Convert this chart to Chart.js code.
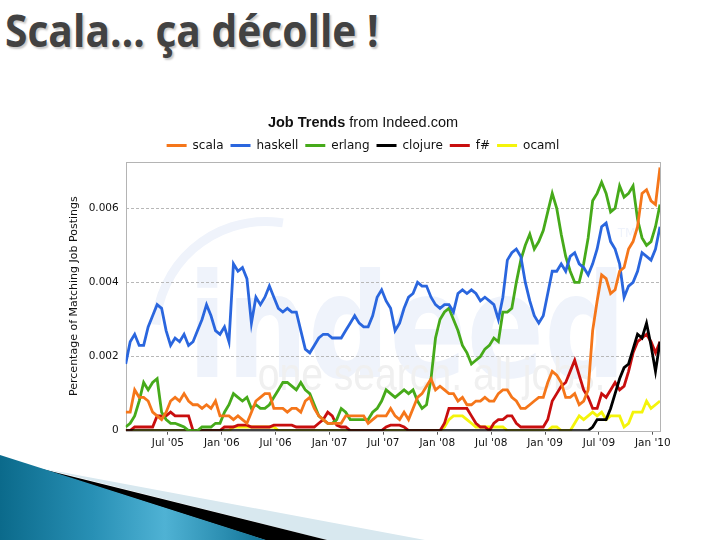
<!DOCTYPE html>
<html>
<head>
<meta charset="utf-8">
<script src="https://cdn.jsdelivr.net/npm/chart.js@4.4.1/dist/chart.umd.min.js"></script>
<style>
  html, body { margin: 0; padding: 0; background: #fff; }
  #slide { position: relative; width: 720px; height: 540px; overflow: hidden; }
  #heading {
    position: absolute; left: 5px; top: 7px; margin: 0;
    font: bold 45px "Open Sans", sans-serif; line-height: 1;
    color: #424242; text-shadow: 2px 2px 2px rgba(0,0,0,0.22);
    white-space: nowrap; transform: scaleX(0.905); transform-origin: 0 0;
  }
  .band { position: absolute; }
  #bandLight { left: 0; top: 455px; width: 430px; height: 85px; background: #d8e8ef;
    clip-path: polygon(45px 14px, 425px 85px, 327px 85px); }
  #bandBlack { left: 0; top: 455px; width: 330px; height: 85px; background: #000;
    clip-path: polygon(38px 13px, 327px 85px, 265px 85px); }
  #bandBlue { left: 0; top: 455px; width: 266px; height: 85px;
    background: linear-gradient(to right, #0b6a8b 0%, #2890b5 35%, #4fb2d4 62%, #2a8db0 85%, #0f7094 100%);
    clip-path: polygon(0 0, 100% 100%, 0 100%); }
  #chart { position: absolute; left: 0; top: 0; }
</style>
</head>
<body>
<div id="slide">
  <div class="band" id="bandLight"></div>
  <div class="band" id="bandBlack"></div>
  <div class="band" id="bandBlue"></div>
  <h1 id="heading">Scala… ça décolle !</h1>
  <canvas id="chart" width="720" height="540"></canvas>
</div>
<script>
// sample points, in months since Jan 2005 (two per month)
const sampleMonths = [
  1.3, 1.8, 2.3, 2.8, 3.3, 3.8, 4.3, 4.8, 5.3, 5.8,
  6.3, 6.8, 7.3, 7.8, 8.3, 8.8, 9.3, 9.8, 10.3, 10.8,
  11.3, 11.8, 12.3, 12.8, 13.3, 13.8, 14.3, 14.8, 15.3, 15.8,
  16.3, 16.8, 17.3, 17.8, 18.3, 18.8, 19.3, 19.8, 20.3, 20.8,
  21.3, 21.8, 22.3, 22.8, 23.3, 23.8, 24.3, 24.8, 25.3, 25.8,
  26.3, 26.8, 27.3, 27.8, 28.3, 28.8, 29.3, 29.8, 30.3, 30.8,
  31.3, 31.8, 32.3, 32.8, 33.3, 33.8, 34.3, 34.8, 35.3, 35.8,
  36.3, 36.8, 37.3, 37.8, 38.3, 38.8, 39.3, 39.8, 40.3, 40.8,
  41.3, 41.8, 42.3, 42.8, 43.3, 43.8, 44.3, 44.8, 45.3, 45.8,
  46.3, 46.8, 47.3, 47.8, 48.3, 48.8, 49.3, 49.8, 50.3, 50.8,
  51.3, 51.8, 52.3, 52.8, 53.3, 53.8, 54.3, 54.8, 55.3, 55.8,
  56.3, 56.8, 57.3, 57.8, 58.3, 58.8, 59.3, 59.8, 60.3, 60.8
];

const tickMonths = [6, 12, 18, 24, 30, 36, 42, 48, 54, 60];
const tickLabels = ["Jul '05", "Jan '06", "Jul '06", "Jan '07", "Jul '07",
                    "Jan '08", "Jul '08", "Jan '09", "Jul '09", "Jan '10"];
const yTicks = [0, 0.002, 0.004, 0.006];

const scala = [
  0.0005, 0.0005, 0.0011, 0.0009, 0.0009, 0.0008, 0.0005, 0.0004, 0.0003, 0.0005,
  0.0008, 0.0009, 0.0008, 0.0010, 0.0008, 0.0007, 0.0007, 0.0006, 0.0007, 0.0006,
  0.0008, 0.0004, 0.0004, 0.0004, 0.0003, 0.0004, 0.0003, 0.0002, 0.0005, 0.0008,
  0.0009, 0.0010, 0.0010, 0.0006, 0.0006, 0.0006, 0.0005, 0.0006, 0.0006, 0.0005,
  0.0008, 0.0009, 0.0006, 0.0004, 0.0003, 0.0002, 0.0002, 0.0002, 0.0002, 0.0004,
  0.0004, 0.0004, 0.0004, 0.0004, 0.0002, 0.0003, 0.0004, 0.0004, 0.0004, 0.0006,
  0.0004, 0.0003, 0.0005, 0.0003, 0.0006, 0.0009, 0.0010, 0.0012, 0.0014, 0.0011,
  0.0012, 0.0011, 0.0010, 0.0010, 0.0008, 0.0009, 0.0007, 0.0007, 0.0008, 0.0008,
  0.0009, 0.0008, 0.0008, 0.0010, 0.0011, 0.0011, 0.0009, 0.0008, 0.0006, 0.0006,
  0.0007, 0.0008, 0.0009, 0.0009, 0.0013, 0.0016, 0.0015, 0.0013, 0.0009, 0.0009,
  0.0010, 0.0007, 0.0008, 0.0011, 0.0027, 0.0035, 0.0042, 0.0041, 0.0037, 0.0038,
  0.0043, 0.0044, 0.0049, 0.0051, 0.0055, 0.0064, 0.0065, 0.0062, 0.0061, 0.0071
];

const haskell = [
  0.0018, 0.0024, 0.0026, 0.0023, 0.0023, 0.0028, 0.0031, 0.0034, 0.0033, 0.0027,
  0.0023, 0.0025, 0.0024, 0.0026, 0.0023, 0.0024, 0.0027, 0.0030, 0.0034, 0.0031,
  0.0027, 0.0026, 0.0028, 0.0024, 0.0045, 0.0043, 0.0044, 0.0041, 0.0029, 0.0036,
  0.0034, 0.0036, 0.0039, 0.0036, 0.0033, 0.0032, 0.0033, 0.0032, 0.0032, 0.0027,
  0.0022, 0.0021, 0.0023, 0.0025, 0.0026, 0.0026, 0.0025, 0.0025, 0.0025, 0.0027,
  0.0029, 0.0031, 0.0029, 0.0028, 0.0028, 0.0031, 0.0036, 0.0038, 0.0035, 0.0033,
  0.0027, 0.0029, 0.0033, 0.0036, 0.0037, 0.0040, 0.0039, 0.0039, 0.0036, 0.0034,
  0.0033, 0.0034, 0.0034, 0.0032, 0.0037, 0.0038, 0.0037, 0.0038, 0.0037, 0.0035,
  0.0036, 0.0035, 0.0034, 0.0030, 0.0036, 0.0046, 0.0048, 0.0049, 0.0047, 0.0040,
  0.0035, 0.0031, 0.0029, 0.0031, 0.0037, 0.0043, 0.0043, 0.0045, 0.0043, 0.0047,
  0.0048, 0.0045, 0.0044, 0.0042, 0.0045, 0.0049, 0.0055, 0.0056, 0.0051, 0.0049,
  0.0045, 0.0036, 0.0039, 0.0040, 0.0043, 0.0048, 0.0047, 0.0046, 0.0049, 0.0055
];

const erlang = [
  0.0001, 0.0002, 0.0004, 0.0008, 0.0013, 0.0011, 0.0013, 0.0014, 0.0005, 0.0003,
  0.0002, 0.0002, 0.00015, 0.0001, 0, 0, 0, 0.0001, 0.0001, 0.0001,
  0.0002, 0.0002, 0.0005, 0.0007, 0.0010, 0.0009, 0.0008, 0.0009, 0.0006, 0.0007,
  0.0006, 0.0006, 0.0007, 0.0009, 0.0011, 0.0013, 0.0013, 0.0012, 0.0011, 0.0013,
  0.0011, 0.0010, 0.0007, 0.0004, 0.0003, 0.0002, 0.0002, 0.0003, 0.0006, 0.0005,
  0.0003, 0.0003, 0.0003, 0.0003, 0.0003, 0.0005, 0.0006, 0.0008, 0.0011, 0.0010,
  0.0009, 0.0010, 0.0011, 0.0010, 0.0011, 0.0008, 0.0006, 0.0007, 0.0014, 0.0025,
  0.0030, 0.0032, 0.0033, 0.0030, 0.0027, 0.0023, 0.0021, 0.0018, 0.0019, 0.0020,
  0.0022, 0.0023, 0.0025, 0.0024, 0.0032, 0.0032, 0.0033, 0.0040, 0.0046, 0.0050,
  0.0053, 0.0049, 0.0051, 0.0054, 0.0059, 0.0064, 0.0060, 0.0053, 0.0047, 0.0043,
  0.0040, 0.0040, 0.0045, 0.0052, 0.0062, 0.0064, 0.0067, 0.0064, 0.0059, 0.0060,
  0.0066, 0.0063, 0.0064, 0.0066, 0.0057, 0.0052, 0.0050, 0.0051, 0.0055, 0.0061
];

const clojure = [
  0, 0, 0, 0, 0, 0, 0, 0, 0, 0,
  0, 0, 0, 0, 0, 0, 0, 0, 0, 0,
  0, 0, 0, 0, 0, 0, 0, 0, 0, 0,
  0, 0, 0, 0, 0, 0, 0, 0, 0, 0,
  0, 0, 0, 0, 0, 0, 0, 0, 0, 0,
  0, 0, 0, 0, 0, 0, 0, 0, 0, 0,
  0, 0, 0, 0, 0, 0, 0, 0, 0, 0,
  0, 0, 0, 0, 0, 0, 0, 0, 0, 0,
  0, 0, 0, 0, 0, 0, 0, 0, 0, 0,
  0, 0, 0, 0, 0, 0, 0, 0, 0, 0,
  0, 0, 0, 0, 0.0001, 0.0003, 0.0003, 0.0003, 0.0006, 0.0010,
  0.0014, 0.0017, 0.0018, 0.0022, 0.0026, 0.0025, 0.0029, 0.0023, 0.0016, 0.0024
];

const fsharp = [
  0, 0, 0.0001, 0.0001, 0.0001, 0.0001, 0.0001, 0.0004, 0.0004, 0.0004,
  0.0005, 0.0004, 0.0004, 0.0004, 0.0004, 0, 0, 0, 0, 0,
  0, 0, 0.0001, 0.0001, 0.0001, 0.00015, 0.00015, 0.00015, 0.0001, 0.0001,
  0.0001, 0.0001, 0.0001, 0.00015, 0.00015, 0.00015, 0.00015, 0.00015, 0.0001, 0.0001,
  0.0001, 0.0001, 0.0001, 0.0002, 0.0003, 0.0005, 0.0004, 0.00015, 0.0001, 0.0001,
  0, 0, 0, 0, 0, 0, 0, 0, 0.0001, 0.00015,
  0.00015, 0.00015, 0.0001, 0, 0, 0, 0, 0, 0, 0,
  0, 0.0002, 0.0006, 0.0006, 0.0006, 0.0006, 0.0006, 0.0004, 0.0002, 0.0001,
  0.0001, 0, 0.0002, 0.0003, 0.0003, 0.0004, 0.0004, 0.0002, 0.0001, 0.0001,
  0.0001, 0.0001, 0.0001, 0.0001, 0.0003, 0.0008, 0.0010, 0.0012, 0.0013, 0.0016,
  0.0019, 0.0015, 0.0011, 0.0009, 0.0006, 0.0006, 0.0010, 0.0009, 0.0011, 0.0013,
  0.0011, 0.0012, 0.0016, 0.0021, 0.0024, 0.0025, 0.0026, 0.0024, 0.0021, 0.0024
];

const ocaml = [
  0, 0, 0, 0, 0, 0, 0, 0, 0, 0,
  0, 0, 0, 0, 0, 0, 0, 0, 0, 0,
  0, 0, 0, 0, 0.0001, 0.0001, 0.0001, 0.0001, 0.0001, 0.0001,
  0.0001, 0.0001, 0.0001, 0.0001, 0, 0, 0, 0, 0, 0,
  0, 0, 0, 0, 0, 0, 0, 0, 0, 0,
  0, 0, 0, 0, 0, 0, 0, 0, 0, 0,
  0, 0, 0, 0, 0, 0, 0, 0, 0, 0,
  0, 0.0001, 0.0003, 0.0004, 0.0004, 0.0004, 0.0003, 0.0002, 0.0001, 0.0001,
  0.0001, 0.0001, 0.0001, 0.0001, 0.0001, 0, 0, 0, 0, 0,
  0, 0, 0, 0, 0, 0.0001, 0.0001, 0, 0, 0,
  0.0002, 0.0004, 0.0003, 0.0004, 0.0005, 0.0004, 0.0005, 0.0003, 0.0004, 0.0004,
  0.0004, 0.0001, 0.0002, 0.0005, 0.0005, 0.0005, 0.0008, 0.0006, 0.0007, 0.0008
];

function toPoints(values) {
  return sampleMonths.map((m, i) => ({ x: m, y: values[i] }));
}

function series(label, values, color) {
  return {
    label: label,
    data: toPoints(values),
    borderColor: color,
    backgroundColor: color,
    borderWidth: 2.8,
    pointRadius: 0,
    tension: 0
  };
}

// watermark, frame and the two-weight heading
const decorations = {
  id: 'decorations',
  beforeDraw(chart) {
    const { ctx, chartArea: a } = chart;
    ctx.save();
    ctx.beginPath();
    ctx.rect(a.left, a.top, a.right - a.left, a.bottom - a.top);
    ctx.clip();
    ctx.strokeStyle = '#eff3fb';
    ctx.lineWidth = 9;
    ctx.beginPath();
    ctx.arc(a.left + 140, a.top + 170, 110, Math.PI * 1.02, Math.PI * 1.55);
    ctx.stroke();
    ctx.fillStyle = '#eff3fb';
    ctx.save();
    ctx.translate(a.left + 62, a.top + 178);
    ctx.scale(0.95, 1.2);
    ctx.font = 'bold 120px "DejaVu Sans"';
    ctx.fillText('indeed', 0, 0);
    ctx.restore();
    ctx.font = '12px "DejaVu Sans"';
    ctx.fillText('TM', a.left + 492, a.top + 72);
    ctx.fillStyle = '#f0f0f0';
    ctx.save();
    ctx.translate(a.left + 132, a.top + 216);
    ctx.scale(0.85, 1);
    ctx.font = '46px "Liberation Sans"';
    ctx.fillText('one search. all jobs.', 0, 0);
    ctx.restore();
    ctx.restore();
  },
  beforeDatasetsDraw(chart) {
    const { ctx, chartArea: a } = chart;
    ctx.save();
    ctx.strokeStyle = '#b4b4b4';
    ctx.lineWidth = 1;
    ctx.strokeRect(Math.round(a.left) + 0.5, Math.round(a.top) + 0.5,
                   Math.round(a.right - a.left), Math.round(a.bottom - a.top));
    ctx.restore();
  },
  afterDraw(chart) {
    const ctx = chart.ctx;
    const bold = 'Job Trends';
    const rest = ' from Indeed.com';
    ctx.save();
    ctx.fillStyle = '#111';
    ctx.textBaseline = 'middle';
    ctx.font = 'bold 14.5px "Liberation Sans"';
    const w1 = ctx.measureText(bold).width;
    ctx.font = '14.5px "Liberation Sans"';
    const w2 = ctx.measureText(rest).width;
    const x0 = 363 - (w1 + w2) / 2;
    ctx.font = 'bold 14.5px "Liberation Sans"';
    ctx.fillText(bold, x0, 123);
    ctx.font = '14.5px "Liberation Sans"';
    ctx.fillText(rest, x0 + w1, 123);
    ctx.restore();
  }
};

new Chart(document.getElementById('chart'), {
  type: 'line',
  data: {
    datasets: [
      series('scala', scala, '#f5761a'),
      series('haskell', haskell, '#2a66de'),
      series('erlang', erlang, '#46aa1a'),
      series('clojure', clojure, '#000000'),
      series('f#', fsharp, '#c80e0e'),
      series('ocaml', ocaml, '#f4f40a')
    ]
  },
  options: {
    responsive: false,
    animation: false,
    devicePixelRatio: 1,
    layout: { padding: { left: 66, right: 60, top: 132.5, bottom: 0 } },
    plugins: {
      title: { display: false },
      tooltip: { enabled: false },
      legend: {
        position: 'top',
        labels: {
          usePointStyle: true,
          pointStyle: 'line',
          pointStyleWidth: 20,
          padding: 7,
          color: '#111',
          font: { family: 'DejaVu Sans', size: 12 }
        }
      }
    },
    scales: {
      x: {
        type: 'linear',
        min: 1.3,
        max: 60.8,
        afterFit(scale) { scale.height = 109.3; },
        afterBuildTicks(scale) { scale.ticks = tickMonths.map(v => ({ value: v })); },
        border: { display: false },
        grid: { drawOnChartArea: false, drawTicks: true, tickLength: 4, color: '#555' },
        ticks: {
          autoSkip: false,
          maxRotation: 0,
          padding: 2,
          color: '#111',
          font: { family: 'DejaVu Sans', size: 10.5 },
          callback: (value, index) => tickLabels[index]
        }
      },
      y: {
        min: 0,
        max: 0.00726,
        afterFit(scale) { scale.width = 59.7; },
        afterBuildTicks(scale) { scale.ticks = yTicks.map(v => ({ value: v })); },
        border: { display: false, dash: [3, 2] },
        grid: {
          drawTicks: false,
          color: ctx => (ctx.tick && ctx.tick.value > 0) ? '#b8b8b8' : 'transparent'
        },
        ticks: {
          padding: 7,
          color: '#111',
          font: { family: 'DejaVu Sans', size: 10.5 },
          callback: value => value === 0 ? '0' : value.toFixed(3)
        },
        title: {
          display: true,
          text: 'Percentage of Matching Job Postings',
          color: '#111',
          padding: { top: 2, bottom: 0 },
          font: { family: 'DejaVu Sans', size: 11 }
        }
      }
    }
  },
  plugins: [decorations]
});
</script>
</body>
</html>
